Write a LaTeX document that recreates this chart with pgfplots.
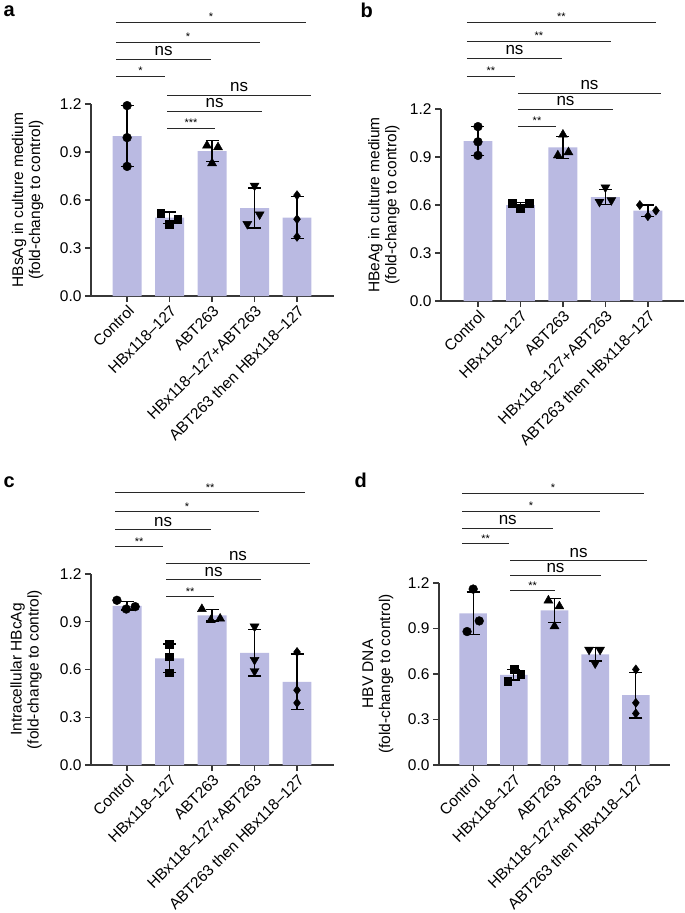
\documentclass[border=0pt]{standalone}
\usepackage{pgfplots}
\pgfplotsset{compat=1.18}
\usepackage{fontspec}
\setmainfont{Liberation Sans}

\definecolor{barcol}{RGB}{186,186,226}
\definecolor{axcol}{RGB}{55,55,55}
\definecolor{sigcol}{RGB}{40,40,40}

\pgfplotsset{
  panel/.style={
    scale only axis, anchor=south west, clip=false,
    ymin=0, ymax=1.2,
    axis x line=bottom, axis y line=left,
    axis line style={-, line width=1.3pt, draw=axcol},
    every tick/.style={line width=1.3pt, draw=axcol},
    tick align=outside, major tick length=6pt,
    xtick={0,...,4},
    xticklabels={Control,HBx118--127,ABT263,HBx118--127+ABT263,ABT263 then HBx118--127},
    xticklabel style={rotate=45, anchor=north east, inner sep=1.5pt},
    ytick={0,0.3,0.6,0.9,1.2},
    yticklabels={0.0,0.3,0.6,0.9,1.2},
    ylabel style={align=center, anchor=center},
  },
}

% bars, SD error bars, replicate points, significance lines
\newcommand{\bars}[1]{\addplot[ybar, bar width=0.68, fill=barcol, draw=none, forget plot] coordinates {#1};}
\newcommand{\errs}[1]{\addplot[draw=none, forget plot,
  error bars/.cd, y dir=both, y explicit,
  error bar style={draw=black, line width=1.3pt},
  error mark options={rotate=90, mark size=6.5pt, draw=black, line width=1.3pt}] coordinates {#1};}
\newcommand{\pts}[2]{\addplot[only marks, black, forget plot, #1] coordinates {#2};}
\newcommand{\sig}[4]{\addplot[sigcol, line width=0.9pt, mark=none, forget plot] coordinates {(#1,#3) (#2,#3)}
  node[pos=0.5, above, inner sep=1pt, black, font=\fontsize{11}{11}\selectfont] {#4};}
\newcommand{\ns}[3]{\addplot[sigcol, line width=0.9pt, mark=none, forget plot] coordinates {(#1,#3) (#2,#3)}
  node[pos=0.5, above, inner sep=3pt, black, font=\fontsize{17}{17}\selectfont] {ns};}

\begin{document}
\begin{tikzpicture}[font=\fontsize{15.5}{17}\selectfont]
\path[use as bounding box] (0pt,0pt) rectangle (685pt,-913pt);

\node[anchor=base west, font=\fontsize{20}{20}\selectfont\bfseries] at (0pt,-16pt) {a};
\node[anchor=base west, font=\fontsize{20}{20}\selectfont\bfseries] at (357pt,-17pt) {b};
\node[anchor=base west, font=\fontsize{20}{20}\selectfont\bfseries] at (0pt,-487pt) {c};
\node[anchor=base west, font=\fontsize{20}{20}\selectfont\bfseries] at (351pt,-487pt) {d};

% ---------- a ----------
\begin{axis}[panel, at={(91pt,-296pt)}, width=243pt, height=192pt,
  xmin=-0.85, xmax=4.87,
  ylabel={HBsAg in culture medium\\(fold-change to control)},
  ylabel style={at={(axis description cs:-0.261,0.5)}}]
\bars{(0,1.00) (1,0.49) (2,0.905) (3,0.55) (4,0.49)}
\errs{(0,1.00) +- (0,0.19) (1,0.49) +- (0,0.035) (2,0.905) +- (0,0.065) (3,0.55) +- (0,0.125) (4,0.49) +- (0,0.13)}
\pts{mark=*, mark size=4.4pt}{(0,1.19) (0,0.99) (0,0.81)}
\pts{mark=square*, mark size=3.9pt}{(0.79,0.52) (1,0.45) (1.19,0.48)}
\pts{mark=triangle*, mark size=5.2pt}{(1.88,0.94) (2.14,0.93) (2,0.83)}
\pts{mark=triangle*, mark size=5.2pt, mark options={rotate=180}}{(3,0.69) (2.83,0.45) (3.12,0.51)}
\pts{mark=diamond*, mark size=4.6pt}{(4,0.63) (4,0.48) (4,0.37)}
\sig{-0.26}{4.21}{1.712}{*}
\sig{-0.26}{3.13}{1.587}{*}
\ns{-0.26}{1.98}{1.48}
\sig{-0.26}{0.89}{1.375}{*}
\ns{0.94}{4.33}{1.256}
\ns{0.94}{3.18}{1.156}
\sig{0.94}{2.07}{1.05}{***}
\end{axis}

% ---------- b ----------
\begin{axis}[panel, at={(441pt,-301pt)}, width=243pt, height=192pt,
  xmin=-0.87, xmax=4.85,
  ylabel={HBeAg in culture medium\\(fold-change to control)},
  ylabel style={at={(axis description cs:-0.235,0.5)}}]
\bars{(0,1.00) (1,0.60) (2,0.96) (3,0.65) (4,0.565)}
\errs{(0,1.00) +- (0,0.09) (1,0.60) +- (0,0.017) (2,0.96) +- (0,0.07) (3,0.65) +- (0,0.045) (4,0.565) +- (0,0.035)}
\pts{mark=*, mark size=4.4pt}{(0,1.09) (0,0.995) (0,0.91)}
\pts{mark=square*, mark size=3.9pt}{(0.81,0.61) (1,0.58) (1.21,0.61)}
\pts{mark=triangle*, mark size=5.2pt}{(2,1.04) (1.88,0.91) (2.13,0.93)}
\pts{mark=triangle*, mark size=5.2pt, mark options={rotate=180}}{(3,0.71) (2.86,0.62) (3.14,0.63)}
\pts{mark=diamond*, mark size=4.6pt}{(3.81,0.60) (4,0.53) (4.19,0.565)}
\sig{-0.26}{4.19}{1.744}{**}
\sig{-0.26}{3.13}{1.625}{**}
\ns{-0.26}{1.98}{1.519}
\sig{-0.26}{0.87}{1.406}{**}
\ns{0.94}{4.31}{1.30}
\ns{0.94}{3.18}{1.20}
\sig{0.94}{1.84}{1.094}{**}
\end{axis}

% ---------- c ----------
\begin{axis}[panel, at={(91pt,-765pt)}, width=243pt, height=191pt,
  xmin=-0.85, xmax=4.87,
  ylabel={Intracellular HBcAg\\(fold-change to control)},
  ylabel style={at={(axis description cs:-0.267,0.5)}}]
\bars{(0,1.00) (1,0.67) (2,0.94) (3,0.705) (4,0.523)}
\errs{(0,1.00) +- (0,0.027) (1,0.67) +- (0,0.09) (2,0.94) +- (0,0.035) (3,0.705) +- (0,0.145) (4,0.523) +- (0,0.175)}
\pts{mark=*, mark size=4.4pt}{(-0.24,1.035) (-0.02,0.98) (0.19,0.995)}
\pts{mark=square*, mark size=3.9pt}{(1,0.76) (1,0.68) (1,0.58)}
\pts{mark=triangle*, mark size=5.2pt}{(1.76,0.98) (1.97,0.91) (2.19,0.92)}
\pts{mark=triangle*, mark size=5.2pt, mark options={rotate=180}}{(3,0.87) (3,0.66) (3,0.59)}
\pts{mark=diamond*, mark size=4.6pt}{(4,0.71) (4,0.47) (4,0.39)}
\sig{-0.28}{4.19}{1.711}{**}
\sig{-0.28}{3.10}{1.591}{*}
\ns{-0.28}{1.98}{1.478}
\sig{-0.28}{0.85}{1.371}{**}
\ns{0.92}{4.30}{1.264}
\ns{0.92}{3.15}{1.164}
\sig{0.92}{2.05}{1.057}{**}
\end{axis}

% ---------- d ----------
\begin{axis}[panel, at={(439pt,-765pt)}, width=231pt, height=182pt,
  xmin=-0.84, xmax=4.84,
  ylabel={HBV DNA\\(fold-change to control)},
  ylabel style={at={(axis description cs:-0.264,0.5)}}]
\bars{(0,1.00) (1,0.595) (2,1.02) (3,0.73) (4,0.46)}
\errs{(0,1.00) +- (0,0.14) (1,0.595) +- (0,0.035) (2,1.02) +- (0,0.08) (3,0.73) +- (0,0.045) (4,0.46) +- (0,0.15)}
\pts{mark=*, mark size=4.4pt}{(0,1.16) (-0.15,0.88) (0.15,0.95)}
\pts{mark=square*, mark size=3.9pt}{(0.85,0.55) (1,0.63) (1.17,0.60)}
\pts{mark=triangle*, mark size=5.2pt}{(1.85,1.085) (2.12,1.046) (2,0.915)}
\pts{mark=triangle*, mark size=5.2pt, mark options={rotate=180}}{(2.85,0.76) (3.12,0.76) (3,0.67)}
\pts{mark=diamond*, mark size=4.6pt}{(4,0.63) (4,0.41) (4,0.34)}
\sig{-0.27}{4.20}{1.791}{*}
\sig{-0.27}{3.12}{1.673}{*}
\ns{-0.27}{1.97}{1.562}
\sig{-0.27}{0.88}{1.458}{**}
\ns{0.91}{4.28}{1.346}
\ns{0.91}{3.14}{1.248}
\sig{0.91}{2.01}{1.150}{**}
\end{axis}
\end{tikzpicture}
\end{document}
